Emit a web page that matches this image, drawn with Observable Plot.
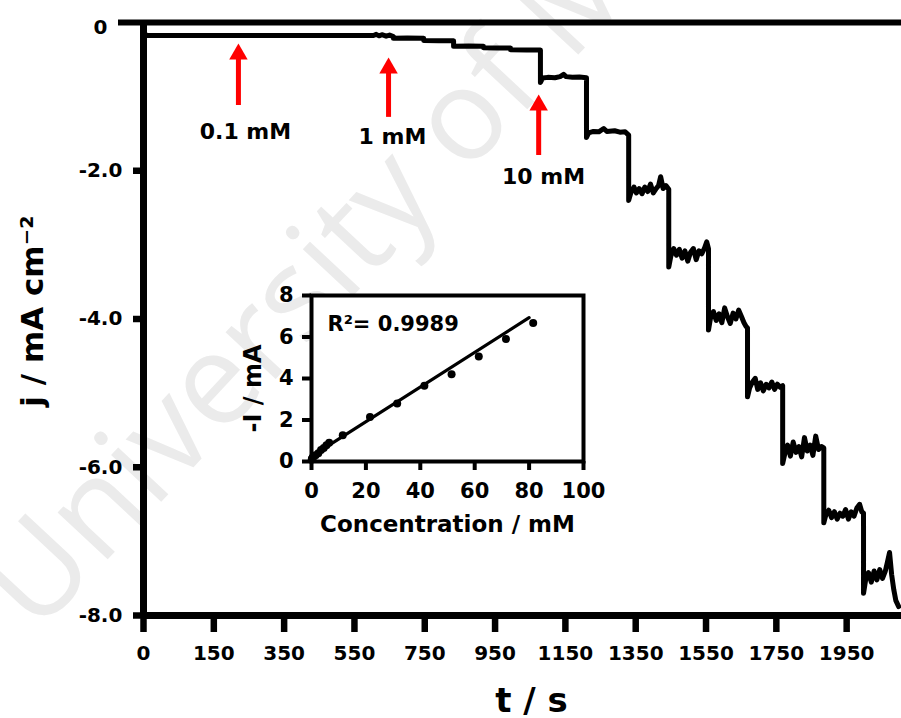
<!DOCTYPE html>
<html>
<head>
<meta charset="utf-8">
<script src="https://cdn.jsdelivr.net/npm/d3@7"></script>
<script src="https://cdn.jsdelivr.net/npm/@observablehq/plot@0.6"></script>
<style>
  body { margin: 0; background: white; }
  #wrap { position: relative; width: 901px; height: 718px; overflow: hidden; }
  #wrap svg { position: absolute; }
</style>
</head>
<body>
<div id="wrap"></div>
<script>
// ---------- main chart data ----------
// time axis: positions of the ticks and the labels printed under them
const xTickPos = [-50, 150, 350, 550, 750, 950, 1150, 1350, 1550, 1750, 1950];
const xTickLabels = ["0", "150", "350", "550", "750", "950", "1150", "1350", "1550", "1750", "1950"];
const yTicks = [-2, -4, -6, -8];
const yTickLabels = ["-2.0", "-4.0", "-6.0", "-8.0"];

// amperometric trace: [t, j]
const trace = [
  [-50, -0.09], [-44, -0.175], [604, -0.175], [612, -0.16], [620, -0.18], [628, -0.165], [640, -0.185], [650, -0.17], [661, -0.19],
  [661, -0.212], [700, -0.21], [747, -0.214],
  [747, -0.243], [790, -0.245], [832, -0.246],
  [832, -0.32], [875, -0.318], [917, -0.322],
  [917, -0.341], [955, -0.343], [994, -0.345],
  [994, -0.368], [1040, -0.37], [1079, -0.372],
  [1079, -0.81], [1085, -0.75], [1100, -0.74], [1120, -0.745], [1135, -0.73], [1145, -0.70], [1152, -0.73], [1170, -0.74], [1190, -0.735], [1210, -0.745],
  [1210, -1.55], [1216, -1.49], [1230, -1.47], [1245, -1.475], [1259, -1.43], [1268, -1.47], [1290, -1.46], [1305, -1.48], [1320, -1.475], [1330, -1.52],
  [1330, -2.40], [1336, -2.30], [1345, -2.22], [1352, -2.30], [1360, -2.24], [1368, -2.31], [1376, -2.22], [1384, -2.28], [1392, -2.18], [1400, -2.30], [1408, -2.24], [1415, -2.20], [1421, -2.08], [1428, -2.24], [1436, -2.20], [1444, -2.25],
  [1444, -3.30], [1450, -3.15], [1458, -3.05], [1466, -3.14], [1474, -3.06], [1482, -3.18], [1490, -3.08], [1498, -3.22], [1506, -3.10], [1514, -3.05], [1522, -3.20], [1530, -3.08], [1538, -3.12], [1546, -3.04], [1552, -2.96], [1557, -3.05],
  [1557, -4.15], [1563, -3.98], [1571, -3.90], [1579, -4.02], [1587, -3.93], [1595, -4.05], [1603, -3.85], [1611, -3.97], [1619, -4.06], [1627, -3.92], [1635, -4.00], [1643, -3.88], [1651, -3.97], [1658, -4.05], [1664, -4.10], [1668, -4.12],
  [1668, -5.05], [1674, -4.93], [1682, -4.85], [1690, -4.80], [1697, -4.95], [1705, -4.86], [1713, -4.97], [1721, -4.88], [1729, -4.93], [1737, -4.85], [1745, -4.95], [1753, -4.88], [1761, -4.92], [1768, -4.90],
  [1768, -5.95], [1774, -5.82], [1782, -5.70], [1790, -5.85], [1798, -5.66], [1806, -5.80], [1814, -5.72], [1822, -5.86], [1830, -5.60], [1838, -5.78], [1846, -5.70], [1854, -5.84], [1862, -5.58], [1870, -5.76], [1878, -5.72], [1885, -5.74],
  [1885, -6.75], [1891, -6.64], [1899, -6.58], [1907, -6.68], [1915, -6.60], [1923, -6.70], [1931, -6.62], [1939, -6.66], [1947, -6.57], [1955, -6.70], [1963, -6.60], [1971, -6.66], [1979, -6.55], [1987, -6.50], [1993, -6.60], [1998, -6.62],
  [1998, -7.70], [2004, -7.52], [2012, -7.42], [2020, -7.55], [2028, -7.40], [2036, -7.52], [2044, -7.38], [2052, -7.50], [2060, -7.40], [2066, -7.28], [2072, -7.15], [2078, -7.45], [2084, -7.65], [2090, -7.80], [2098, -7.88]
];

// red arrows marking the additions
const arrowLabels = ["0.1 mM", "1 mM", "10 mM"];
const arrowT = [220, 647, 1074];
const arrowTip = [-0.283, -0.472, -0.971];
const arrowTail = [-1.12, -1.28, -1.794];
const labelT = [240, 658, 1088];
const labelJ = [-1.47, -1.55, -2.08];

const watermark = "University of Malaya";

// ---------- inset data ----------
const insetConc = [0.1, 0.2, 0.3, 0.4, 0.5, 1.5, 2.5, 3.5, 4.5, 5.5, 6.5, 11.5, 21.5, 31.5, 41.5, 51.5, 61.5, 71.5, 81.5];
const insetCurrent = [0.1, 0.12, 0.15, 0.17, 0.2, 0.3, 0.4, 0.55, 0.65, 0.78, 0.9, 1.27, 2.14, 2.8, 3.65, 4.2, 5.06, 5.9, 6.67];
const fitSlope = 0.0835;
const fitIntercept = 0.25;
const fitRange = [0, 80];
const insetXTicks = [0, 20, 40, 60, 80, 100];
const insetYTicks = [0, 2, 4, 6, 8];
const r2Label = "R²= 0.9989";

const F = "DejaVu Sans";
const arrows = arrowLabels.map((label, i) => ({label, t: arrowT[i], tip: arrowTip[i], tail: arrowTail[i], lt: labelT[i], lj: labelJ[i]}));
const points = insetConc.map((c, i) => ({c, I: insetCurrent[i]}));

const main = Plot.plot({
  width: 901, height: 718,
  marginLeft: 143, marginRight: 0, marginTop: 22, marginBottom: 103,
  x: {domain: [-50, 2106], axis: null},
  y: {domain: [-8, 0], axis: null},
  style: {background: "transparent", fontFamily: F, fontWeight: "bold", color: "black"},
  marks: [
    Plot.text([watermark], {frameAnchor: "bottom-left", dx: -107, dy: 20, rotate: -47, fontSize: 128,
      fontFamily: "Open Sans", fontWeight: "normal", fill: "#ebebeb", textAnchor: "start", lineAnchor: "bottom"}),
    Plot.ruleY([0], {strokeWidth: 6}),
    Plot.ruleY([-8], {strokeWidth: 7}),
    Plot.ruleX([-50], {strokeWidth: 7}),
    Plot.axisX({ticks: xTickPos, tickSize: 17, tickPadding: 13, strokeWidth: 6.5, fontSize: 20, fontWeight: "bold",
      tickFormat: d => xTickLabels[xTickPos.indexOf(d)], label: null}),
    Plot.axisY({ticks: yTicks, tickSize: 10, tickPadding: 33, textAnchor: "middle", strokeWidth: 6.5, fontSize: 20, fontWeight: "bold",
      tickFormat: d => yTickLabels[yTicks.indexOf(d)], label: null}),
    Plot.axisY({ticks: [0], tickSize: 25, strokeWidth: 6, tickFormat: () => "", label: null}),
    Plot.axisY({ticks: [0], tickSize: 0, tickPadding: 43, textAnchor: "middle", dy: 5, fontSize: 20, fontWeight: "bold",
      tickFormat: () => "0", label: null}),
    Plot.line(trace, {x: d => d[0], y: d => d[1], stroke: "black", strokeWidth: 5, strokeLinejoin: "round"}),
    Plot.ruleX(arrows, {x: "t", y1: "tip", y2: "tail", stroke: "#ff0000", strokeWidth: 5, insetTop: 12}),
    Plot.dot(arrows, {x: "t", y: "tip", symbol: "triangle", r: 6.85, dy: 10.7, fill: "#ff0000"}),
    Plot.text(arrows, {x: "lt", y: "lj", text: "label", fontSize: 22, fontWeight: "bold", fill: "black"}),
    Plot.text(["j / mA cm⁻²"], {frameAnchor: "left", textAnchor: "middle", rotate: -90, dx: -110, dy: -8, fontSize: 31, fontWeight: "bold"}),
    Plot.text(["t / s"], {frameAnchor: "bottom", dx: 9, dy: 96, fontSize: 34, fontWeight: "bold"})
  ]
});
main.style.left = "0px"; main.style.top = "0px";

const inset = Plot.plot({
  width: 380, height: 270,
  marginLeft: 81, marginRight: 27, marginTop: 15, marginBottom: 89,
  x: {domain: [0, 100], axis: null},
  y: {domain: [0, 8], axis: null},
  style: {background: "transparent", fontFamily: F, fontWeight: "bold", color: "black"},
  marks: [
    Plot.frame({fill: "white", stroke: "black", strokeWidth: 4}),
    Plot.axisX({ticks: insetXTicks, tickSize: 9, tickPadding: 13, strokeWidth: 4, fontSize: 21, fontWeight: "bold", label: null}),
    Plot.axisY({ticks: insetYTicks, tickSize: 9, tickPadding: 9, strokeWidth: 4, fontSize: 21, fontWeight: "bold", label: null}),
    Plot.line(fitRange, {x: d => d, y: d => fitIntercept + fitSlope * d, stroke: "black", strokeWidth: 3.2}),
    Plot.dot(points, {x: "c", y: "I", r: 4, fill: "black"}),
    Plot.text([r2Label], {frameAnchor: "top-left", dx: 16, dy: 21, textAnchor: "start", fontSize: 21, fontWeight: "bold"}),
    Plot.text(["Concentration / mM"], {frameAnchor: "bottom", dy: 70, fontSize: 23, fontWeight: "bold"}),
    Plot.text(["-I / mA"], {frameAnchor: "left", textAnchor: "middle", rotate: -90, dx: -58, dy: 10, fontSize: 24, fontWeight: "bold"})
  ]
});
inset.style.left = "230px"; inset.style.top = "280px";

const wrap = document.getElementById("wrap");
wrap.appendChild(main);
wrap.appendChild(inset);
</script>
</body>
</html>
